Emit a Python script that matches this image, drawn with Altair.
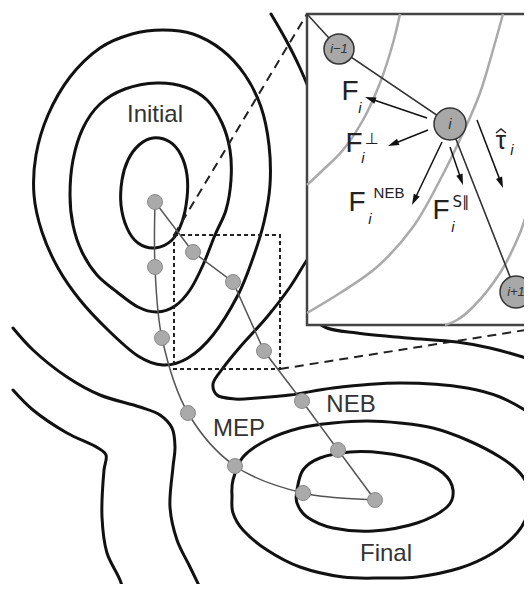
import math
import altair as alt
import pandas as pd

# ---------------- values (pixel coordinates) ----------------
initial_inner = [(153,138),(170,142),(181,155),(187,175),(187,198),(182,222),(172,240),(155,248),
                 (138,243),(127,228),(121,205),(122,180),(128,160),(139,145)]
initial_middle = [(157,83),(185,87),(207,100),(222,123),(230,150),(231,180),(226,210),(215,235),
                  (203,265),(190,290),(175,306),(157,312),(138,307),(117,292),(97,275),(82,252),
                  (73,225),(70,195),(73,160),(83,128),(100,104),(125,89)]
initial_outer = [(163,30),(193,34),(222,50),(245,75),(261,107),(269,145),(270,185),(264,222),
                 (253,258),(238,295),(213,335),(188,358),(163,365),(138,356),(108,330),(80,300),
                 (58,268),(42,232),(34,195),(36,155),(48,115),(70,77),(100,48),(132,34)]
final_inner = [(297,490),(303,470),(320,458),(350,452),(383,453),(417,460),(443,473),(453,490),
               (447,507),(417,523),(373,531),(333,528),(307,517),(297,503)]
final_outer = [(232,497),(233,480),(243,457),(267,440),(300,428),(333,423),(367,421),(400,423),
               (433,428),(467,440),(500,457),(520,473),(530,493),(528,513),(517,533),(493,553),
               (460,568),(417,577),(383,578),(343,577),(300,567),(267,550),(243,530),(233,513)]

finger = [(271,14),(286,40),(300,68),(313,100),(328,150),(328,205),(318,243),(305,263),(290,287),
          (267,317),(240,347),(223,368),(213,384),(217,395),(235,399),(257,398),(290,395),(333,388),
          (400,383),(467,388),(500,397),(530,413),(548,425)]
below_inset = [(312,318),(327,328),(357,333),(407,338),(457,342),(490,348),(532,360),(548,366)]
left_upper = [(13,328),(33,350),(67,377),(100,395),(140,407),(160,415),(172,428),(175,447),
              (173,467),(170,507),(177,540),(190,567),(206,600)]
left_lower = [(13,390),(33,410),(67,433),(98,448),(106,455),(104,470),(102,517),(107,553),
              (120,580),(126,600)]

zoom_lines = [[(174,235),(307,14)], [(280,369),(532,329)]]
zoom_box = [(174,235,280,369)]

mep_path = [(155,202),(155,267),(162,338),(188,413),(235,466),(303,493),(375,500)]
neb_path = [(155,202),(193,252),(233,282),(264,351),(302,401),(338,450),(375,500)]

main_labels = ["Initial", "MEP", "NEB", "Final"]
main_label_pos = [(155,115),(239,429),(351,405),(386,554)]

inset_box = [(307,14,545,325)]
inset_g1 = [(400,14),(393,43),(380,83),(363,120),(343,150),(323,170),(307,185)]
inset_g2 = [(503,14),(493,50),(480,93),(463,133),(440,180),(413,227),(377,267),(340,293),(307,313)]
inset_g3 = [(545,170),(532,197),(520,233),(500,273),(473,307),(457,320),(445,325)]
chain = [(307,14),(339,49),(450,124),(516,292),(535,325)]
chain_images = [(339,49),(450,124),(516,292)]
chain_radius = [15,16,16]
chain_labels = ["i\u22121", "i", "i+1"]
chain_label_size = [13,15,13]

arrow_names = ["F", "Fperp", "Fneb", "Fspar", "tau"]
arrow_start = [(427,118),(428,130),(442,142),(450,147),(477,120)]
arrow_tip = [(365,97),(388,146),(412,205),(463,185),(503,188)]

big_text = ["F", "F", "F", "F", "\u03c4"]
big_pos = [(350,92),(354,144),(357,203),(441,211),(501,141)]
big_size = [28,28,28,28,26]
sup_text = ["\u22a5", "NEB", "S\u2225"]
sup_pos = [(372,139),(389,193),(461,202)]
sup_size = [16,15,15]
sup_font = ["DejaVu Sans", "Liberation Sans", "DejaVu Sans"]
sub_pos = [(360,108),(363,158),(370,219),(453,227),(512,150)]
hat_offsets = [(-5,-8),(0,-12),(5,-8)]   # caret over the tau, relative to the tau glyph

# ---------------- helpers ----------------
def paths_df(paths):
    rows = []
    for name, pts in paths.items():
        for k, (x, y) in enumerate(pts):
            rows.append({"path": name, "o": k, "x": x, "y": y})
    return pd.DataFrame(rows)

X0, X1, Y0, Y1 = 8, 524, 8, 584
xs = alt.Scale(domain=[X0, X1], nice=False, zero=False)
ys = alt.Scale(domain=[Y0, Y1], nice=False, zero=False, reverse=True)
X = lambda f="x": alt.X(f + ":Q", scale=xs, axis=None)
Y = lambda f="y": alt.Y(f + ":Q", scale=ys, axis=None)

def lines(paths, **mk):
    return alt.Chart(paths_df(paths)).mark_line(clip=True, **mk).encode(
        x=X(), y=Y(), detail="path:N", order="o:Q")

closed = lines({"ii": initial_inner, "im": initial_middle, "io": initial_outer,
                "fi": final_inner, "fo": final_outer},
               interpolate="cardinal-closed", color="#111", strokeWidth=3)
opened = lines({"fg": finger, "bi": below_inset, "lu": left_upper, "ll": left_lower},
               interpolate="catmull-rom", color="#111", strokeWidth=3, strokeCap="round")
dashed = lines({f"d{k}": p for k, p in enumerate(zoom_lines)},
               color="#222", strokeWidth=2, strokeDash=[9, 6])
box_df = pd.DataFrame([{"x": a, "y": b, "x2": c, "y2": d} for a, b, c, d in zoom_box])
dotted = alt.Chart(box_df).mark_rect(fillOpacity=0, stroke="#222", strokeWidth=2,
                                     strokeDash=[4, 3]).encode(x=X(), y=Y(), x2="x2:Q", y2="y2:Q")
mep = lines({"mep": mep_path}, interpolate="catmull-rom", color="#555", strokeWidth=1.5)
neb = lines({"neb": neb_path}, color="#555", strokeWidth=1.5)
img_pts = []
for p in mep_path + neb_path:
    if p not in img_pts:
        img_pts.append(p)
img_df = pd.DataFrame(img_pts, columns=["x", "y"])
images = alt.Chart(img_df).mark_circle(size=225, color="#aaaaaa", opacity=1,
                                       stroke="#8a8a8a", strokeWidth=1).encode(x=X(), y=Y())
lab_df = pd.DataFrame({"t": main_labels, "x": [p[0] for p in main_label_pos],
                       "y": [p[1] for p in main_label_pos]})
labels = alt.Chart(lab_df).mark_text(font="Liberation Sans", fontSize=24, color="#333",
                                     baseline="middle", align="center").encode(x=X(), y=Y(), text="t:N")

ib_df = pd.DataFrame([{"x": a, "y": b, "x2": c, "y2": d} for a, b, c, d in inset_box])
inset = alt.Chart(ib_df).mark_rect(fill="white", stroke="#444", strokeWidth=2.5, clip=True).encode(
    x=X(), y=Y(), x2="x2:Q", y2="y2:Q")
gray = lines({"g1": inset_g1, "g2": inset_g2, "g3": inset_g3},
             interpolate="catmull-rom", color="#aaaaaa", strokeWidth=2.5)
chain_l = lines({"c": chain}, color="#333", strokeWidth=1.6)
ci_df = pd.DataFrame({"x": [p[0] for p in chain_images], "y": [p[1] for p in chain_images],
                      "s": [(2 * r) ** 2 for r in chain_radius]})
chain_c = alt.Chart(ci_df).mark_point(filled=True, shape="circle", fill="#a8a8a8", opacity=1,
                                      stroke="#333", strokeWidth=1.5).encode(
    x=X(), y=Y(), size=alt.Size("s:Q", scale=None))
cl_df = pd.DataFrame({"t": chain_labels, "x": [p[0] for p in chain_images],
                      "y": [p[1] for p in chain_images], "fs": chain_label_size})
chain_t = alt.Chart(cl_df).mark_text(font="Liberation Sans", fontStyle="italic", color="#333",
                                     baseline="middle", align="center").encode(
    x=X(), y=Y(), text="t:N", size=alt.Size("fs:Q", scale=None))

HEAD = 11.0
arrow_paths, heads = {}, []
for n, (sx, sy), (tx, ty) in zip(arrow_names, arrow_start, arrow_tip):
    dx, dy = tx - sx, ty - sy
    L = math.hypot(dx, dy)
    ux, uy = dx / L, dy / L
    cx, cy = tx - ux * HEAD / 2, ty - uy * HEAD / 2
    arrow_paths[n] = [(sx, sy), (cx, cy)]
    heads.append({"x": cx, "y": cy, "a": math.degrees(math.atan2(dx, -dy)) % 360})
arrows = lines(arrow_paths, color="#111", strokeWidth=1.5)
heads_c = alt.Chart(pd.DataFrame(heads)).mark_point(
    shape="M0,-1L0.6,1L-0.6,1Z", filled=True, color="#111", opacity=1, size=HEAD ** 2).encode(
    x=X(), y=Y(), angle=alt.Angle("a:Q", scale=None))

bt_df = pd.DataFrame({"t": big_text, "x": [p[0] for p in big_pos], "y": [p[1] for p in big_pos],
                      "fs": big_size})
big_t = alt.Chart(bt_df).mark_text(font="Liberation Sans", color="#222", baseline="middle",
                                   align="center").encode(x=X(), y=Y(), text="t:N",
                                                          size=alt.Size("fs:Q", scale=None))
tau_x, tau_y = big_pos[4]
hat = lines({"hat": [(tau_x + a, tau_y + b) for a, b in hat_offsets]},
            color="#222", strokeWidth=1.4, strokeJoin="miter")

sup_layers = []
for t, (x, y), fs, fnt in zip(sup_text, sup_pos, sup_size, sup_font):
    sup_layers.append(alt.Chart(pd.DataFrame({"t": [t], "x": [x], "y": [y]})).mark_text(
        font=fnt, fontSize=fs, color="#222", baseline="middle", align="center").encode(
        x=X(), y=Y(), text="t:N"))
sb_df = pd.DataFrame({"t": ["i"] * len(sub_pos), "x": [p[0] for p in sub_pos],
                      "y": [p[1] for p in sub_pos]})
sub_t = alt.Chart(sb_df).mark_text(font="Liberation Sans", fontStyle="italic", fontSize=15,
                                   color="#222", baseline="middle", align="center").encode(
    x=X(), y=Y(), text="t:N")

chart = alt.layer(closed, opened, dashed, dotted, mep, neb, images, labels,
                  inset, gray, chain_l, chain_c, chain_t, arrows, heads_c, big_t, hat,
                  *sup_layers, sub_t
                  ).properties(width=X1 - X0, height=Y1 - Y0, autosize="none", padding=0,
                               background="white"
                  ).configure_view(stroke=None)

chart.save("out.html", embed_options={"renderer": "svg", "actions": False})
